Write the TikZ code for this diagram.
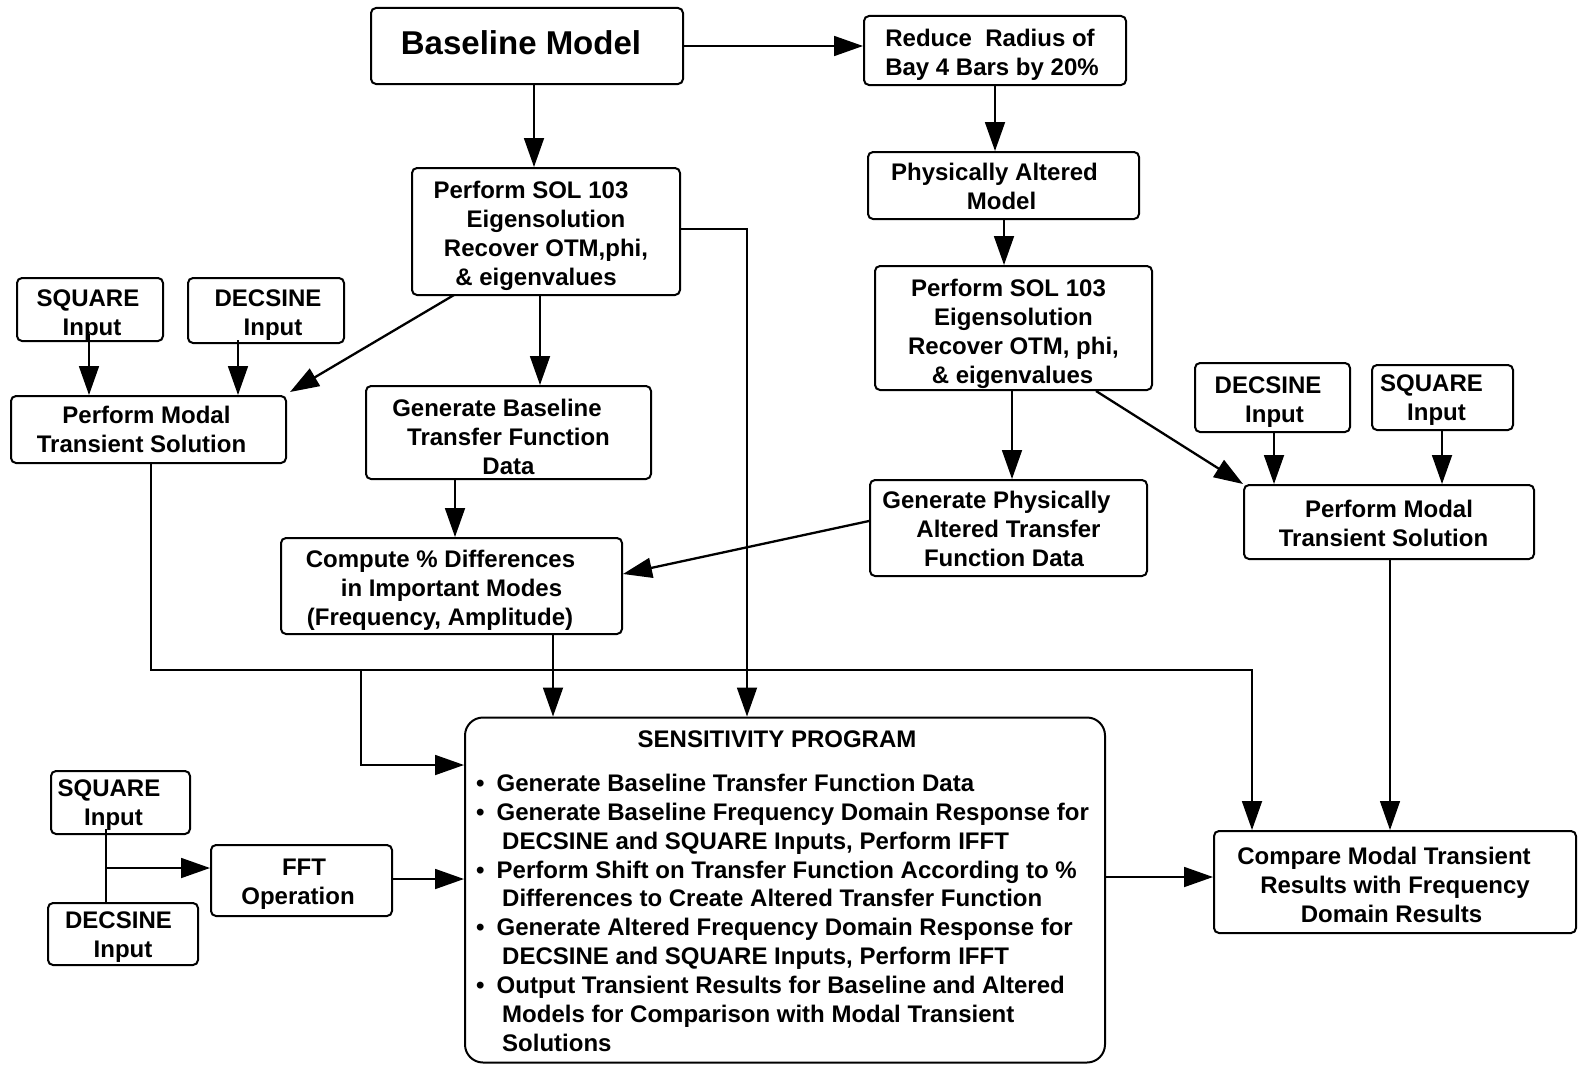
\documentclass[tikz,border=0pt]{standalone}
\usepackage{fontspec}
\setmainfont{Liberation Sans}
\usetikzlibrary{arrows.meta,calc}
\newcommand\tdrop[1]{\rule{0pt}{#1}}
\newcommand\shl[1]{\hspace*{#1}}% at line end: moves line left by half of #1
\newcommand\shr[1]{\hspace*{#1}}% at line start: moves line right by half of #1
\begin{document}
\begin{tikzpicture}[x=1pt,y=-1pt,
  box/.style={draw, line width=2pt, rounded corners=5pt, align=center, inner sep=0pt,
    font=\bfseries\fontsize{24}{29}\selectfont},
  arr/.style={line width=1.8pt, -{Triangle[length=29pt,width=20pt]}},
  plain/.style={line width=1.8pt},
  txt/.style={anchor=base west, inner sep=0pt, font=\bfseries\fontsize{24}{29}\selectfont}]
\useasboundingbox (0,0) rectangle (1578,1065);
\fill[white] (0,0) rectangle (1578,1065);

% boxes
\node[box, minimum width=312, minimum height=76, font=\bfseries\fontsize{33}{38}\selectfont] (baseline) at (527,46) {Baseline Model\rule[-6pt]{0pt}{6pt}\shl{12pt}};
\node[box, minimum width=262, minimum height=69] (reduce) at (995,50.5) {\tdrop{25.5pt}Reduce\ \ Radius of\shl{10pt}\\Bay 4 Bars by 20\%\shl{6pt}};
\node[box, minimum width=271, minimum height=67] (physalt) at (1003.5,185.5) {\tdrop{19.5pt}Physically Altered\shl{18pt}\\Model\shl{4pt}};
\node[box, minimum width=268, minimum height=127] (solL) at (546,231.5) {\tdrop{26.5pt}Perform SOL 103\shl{30pt}\\Eigensolution\shl{22pt}\\Recover OTM,phi,\shl{32pt}\\\& eigenvalues\shl{20pt}};
\node[box, minimum width=277, minimum height=124] (solR) at (1013.5,328) {\tdrop{29.5pt}Perform SOL 103\shl{10pt}\\Eigensolution\shl{4pt}\\Recover OTM, phi,\shl{14pt}\\\& eigenvalues\shl{2pt}};
\node[box, minimum width=146, minimum height=63] (sqL) at (90,309.5) {\tdrop{27.5pt}SQUARE\shl{4pt}\\\shr{4pt}Input};
\node[box, minimum width=156, minimum height=65] (decL) at (266,310.5) {\tdrop{25.5pt}\shr{4pt}DECSINE\\\shr{14pt}Input};
\node[box, minimum width=275, minimum height=67] (pmtL) at (148.5,429.5) {Perform Modal\shl{4pt}\\Transient Solution\shl{14pt}};
\node[box, minimum width=285, minimum height=93] (genBase) at (508.5,432.5) {\tdrop{25.5pt}Generate Baseline\shl{23pt}\\Transfer Function\shl{18pt}\\Data};
\node[box, minimum width=341, minimum height=96] (compute) at (451.5,586) {\tdrop{25.5pt}Compute \% Differences\shl{22pt}\\in Important Modes\shl{11pt}\\(Frequency, Amplitude)\shl{23pt}};
\node[box, minimum width=277, minimum height=96] (genPhys) at (1008.5,528) {\tdrop{19.5pt}Generate Physically\shl{24pt}\\Altered Transfer\shl{18pt}\\Function Data\shl{9pt}};
\node[box, minimum width=155, minimum height=69] (decR) at (1272.5,397.5) {\tdrop{25.5pt}DECSINE\shl{9pt}\\\shr{4pt}Input};
\node[box, minimum width=141, minimum height=65] (sqR) at (1442.5,397.5) {\tdrop{21.5pt}SQUARE\shl{22pt}\\Input\shl{12pt}};
\node[box, minimum width=290, minimum height=74] (pmtR) at (1389,522) {\tdrop{19.5pt}Perform Modal\\Transient Solution\shl{11pt}};
\node[box, minimum width=640, minimum height=345, rounded corners=18pt] (sens) at (785,890) {};
\node[box, minimum width=139, minimum height=63] (sqB) at (120.5,802.5) {\tdrop{21.5pt}SQUARE\shl{23pt}\\Input\shl{14pt}};
\node[box, minimum width=150, minimum height=62] (decB) at (123,934) {\tdrop{23.5pt}DECSINE\shl{9pt}\\Input};
\node[box, minimum width=181, minimum height=71] (fft) at (301.5,880.5) {\tdrop{23.5pt}\shr{5pt}FFT\\Operation\shl{7pt}};
\node[box, minimum width=362, minimum height=102] (compare) at (1395,882) {\tdrop{23.5pt}Compare Modal Transient\shl{22pt}\\Results with Frequency\shl{27pt}\\Domain Results\shl{7pt}};

% sensitivity program text
\node[inner sep=0pt, anchor=base, font=\bfseries\fontsize{24}{29}\selectfont] (stitle) at (777,747) {SENSITIVITY PROGRAM};
\node[txt] (s1) at (476,791.5) {\makebox[20.5pt][l]{•}Generate Baseline Transfer Function Data};
\node[txt] (s2) at (476,820.35) {\makebox[20.5pt][l]{•}Generate Baseline Frequency Domain Response for};
\node[txt] (s3) at (502,849.2) {DECSINE and SQUARE Inputs, Perform IFFT};
\node[txt] (s4) at (476,878.05) {\makebox[20.5pt][l]{•}Perform Shift on Transfer Function According to \%};
\node[txt] (s5) at (502,906.9) {Differences to Create Altered Transfer Function};
\node[txt] (s6) at (476,935.75) {\makebox[20.5pt][l]{•}Generate Altered Frequency Domain Response for};
\node[txt] (s7) at (502,964.6) {DECSINE and SQUARE Inputs, Perform IFFT};
\node[txt] (s8) at (476,993.45) {\makebox[20.5pt][l]{•}Output Transient Results for Baseline and Altered};
\node[txt] (s9) at (502,1022.3) {Models for Comparison with Modal Transient};
\node[txt] (s10) at (502,1051.15) {Solutions};

% guide coordinates
\coordinate (xb) at (534,0);
\coordinate (xc) at (995,0);
\coordinate (xd) at (1004,0);
\coordinate (xf) at (540,0);
\coordinate (xj) at (455,0);
\coordinate (xl) at (1012,0);
\coordinate (xn) at (1274,0);
\coordinate (xo) at (1442,0);
\coordinate (xr) at (553,0);
\coordinate (xs) at (1390,0);
\coordinate (g1) at (747,229);
\coordinate (h1) at (89,334);
\coordinate (i1) at (238,340);
\coordinate (p1) at (151,670);
\coordinate (p2) at (1252,670);
\coordinate (q1) at (361,670);
\coordinate (q2) at (361,765);
\coordinate (u1) at (106,829);
\coordinate (v1) at (106,868);
\coordinate (t1) at (0,877);
\coordinate (w1) at (0,879);

% connectors
\draw[arr] (baseline.east) -- (baseline.east -| reduce.west);
\draw[arr] (baseline.south -| xb) -- (solL.north -| xb);
\draw[arr] (reduce.south -| xc) -- (physalt.north -| xc);
\draw[arr] (physalt.south -| xd) -- (solR.north -| xd);
\draw[arr, line width=2.3pt] ($(solL.south west)+(43,-1)$) -- ($(pmtL.north east)+(3,-3)$);
\draw[arr] (solL.south -| xf) -- (genBase.north -| xf);
\draw[arr] (solL.east |- g1) -- (g1) -- (g1 |- sens.north);
\draw[arr] (h1) -- (h1 |- pmtL.north);
\draw[arr] (i1) -- (i1 |- pmtL.north);
\draw[arr] (genBase.south -| xj) -- (compute.north -| xj);
\draw[arr, line width=2.3pt] ($(genPhys.west)+(0,-7)$) -- ($(compute.east)+(0,-12)$);
\draw[arr] (solR.south -| xl) -- (genPhys.north -| xl);
\draw[arr, line width=2.3pt] ($(solR.south west)+(222,0)$) -- (pmtR.north west);
\draw[arr] (decR.south -| xn) -- (pmtR.north -| xn);
\draw[arr] (sqR.south -| xo) -- (pmtR.north -| xo);
\draw[arr] (pmtL.south -| p1) -- (p1) -- (p2) -- (p2 |- compare.north);
\draw[arr] (q1) -- (q2) -- (q2 -| sens.west);
\draw[arr] (compute.south -| xr) -- (sens.north -| xr);
\draw[arr, line width=1.4pt] (pmtR.south -| xs) -- (compare.north -| xs);
\draw[arr] (sens.east |- t1) -- (compare.west |- t1);
\draw[plain] (u1) -- (u1 |- decB.north);
\draw[arr] (v1) -- (v1 -| fft.west);
\draw[arr] (fft.east |- w1) -- (sens.west |- w1);
\end{tikzpicture}
\end{document}
